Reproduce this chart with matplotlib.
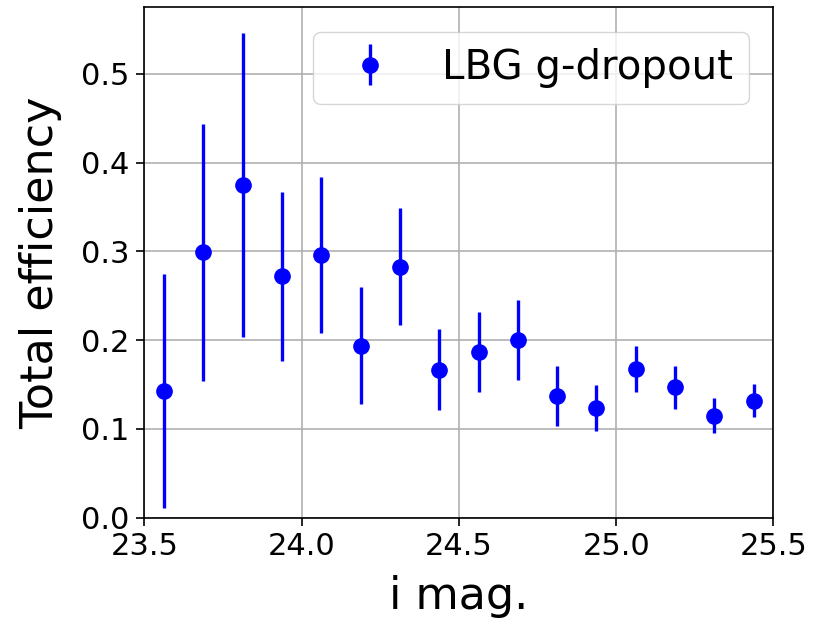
import matplotlib
matplotlib.use('Agg')
import matplotlib.pyplot as plt
import numpy as np

# bin centres in i mag
mag = [23.5625, 23.6875, 23.8125, 23.9375, 24.0625, 24.1875, 24.3125, 24.4375,
       24.5625, 24.6875, 24.8125, 24.9375, 25.0625, 25.1875, 25.3125, 25.4375]
eff = [0.143, 0.299, 0.375, 0.272, 0.296, 0.194, 0.283, 0.167,
       0.187, 0.200, 0.137, 0.124, 0.168, 0.147, 0.115, 0.132]
eff_err = [0.132, 0.145, 0.171, 0.095, 0.088, 0.066, 0.066, 0.046,
           0.045, 0.045, 0.034, 0.026, 0.026, 0.024, 0.020, 0.019]

fig = plt.figure(figsize=(8.15, 6.2), dpi=100)
ax = fig.add_axes([0.177, 0.165, 0.772, 0.823])

ax.errorbar(mag, eff, yerr=eff_err, fmt='o', color='blue', markersize=11,
            elinewidth=2.4, label='LBG g-dropout')

ax.set_xlim(23.5, 25.5)
ax.set_ylim(0.0, 0.575)
ax.set_xticks([23.5, 24.0, 24.5, 25.0, 25.5])
ax.set_yticks([0.0, 0.1, 0.2, 0.3, 0.4, 0.5])
ax.grid(True, linewidth=1.2)
for s in ax.spines.values():
    s.set_linewidth(1.2)
ax.tick_params(labelsize=22, length=5.5, width=1.2, pad=5)
ax.set_xlabel('i mag.', fontsize=32, labelpad=10)
ax.set_ylabel('Total efficiency', fontsize=32, labelpad=14)
ax.legend(loc='upper right', fontsize=29, borderaxespad=0.6)

fig.savefig('out.png', dpi=100)
